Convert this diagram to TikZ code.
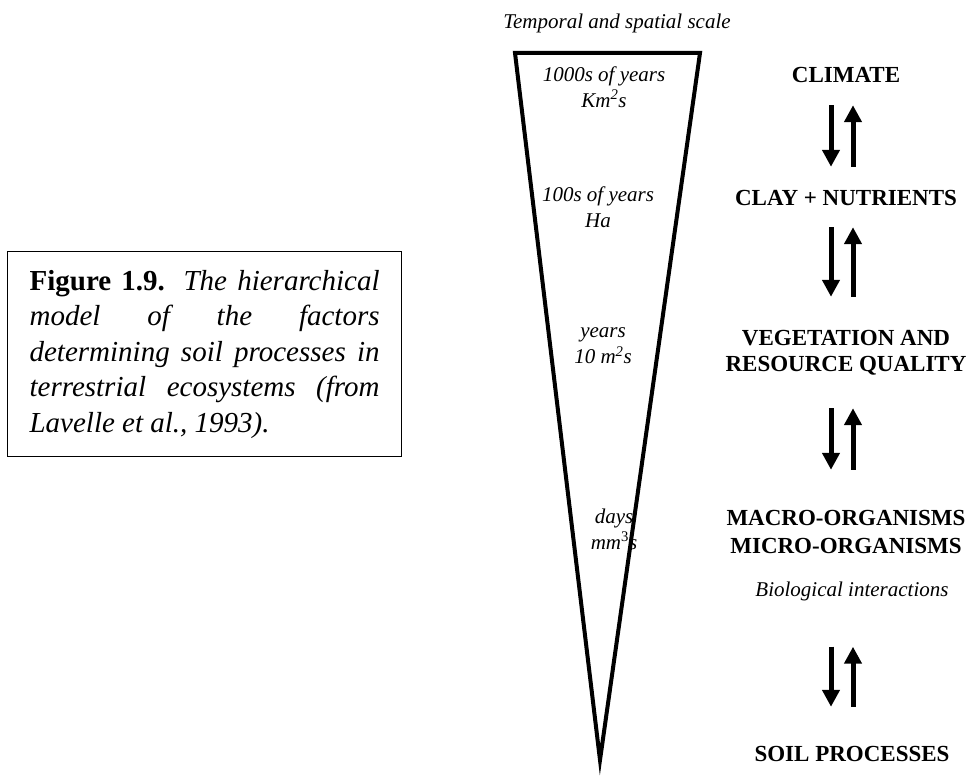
\documentclass[tikz,border=0pt]{standalone}
\usepackage{fontspec}
\setmainfont{Liberation Serif}
\usetikzlibrary{arrows.meta, positioning}

\begin{document}
\begin{tikzpicture}[
x=1pt, y=-1pt,
every node/.style={
    inner sep=0pt,
    },
factor/.style={
    font=\fontsize{23}{26}\selectfont\bfseries,
    text height=16pt,
    text depth=0pt,
    },
scalelab/.style={
    font=\fontsize{21}{26}\selectfont\itshape,
    align=center,
    },
every edge/.style={
    draw,
    line width=5pt,
    -{Triangle[length=17pt,width=17pt]},
    },
gap/.style 2 args={
    shorten <=#1,
    shorten >=#2,
    },
]
\useasboundingbox (0,0) rectangle (978,778);

% the scale wedge
\draw[line width=4pt, line join=miter] (515,53) -- (700,53) -- (600,760) -- cycle;
\node[scalelab] (scale) at (617,23) {Temporal and spatial scale};
\node[scalelab] (kyr) at (604,87) {1000s of years\\Km\textsuperscript{2}s};
\node[scalelab] (cyr) at (598,207) {100s of years\\Ha};
\node[scalelab] (yr) at (603,346) {years\\10 m\textsuperscript{2}s};
\node[scalelab] (day) at (614,529) {days\\mm\textsuperscript{\upshape 3}s};

% the levels
\node[factor] (climate) at (846,75) {CLIMATE};
\node[factor] (clay) at (846,198) {CLAY + NUTRIENTS};
\node[factor] (veg) at (846,337) {VEGETATION AND};
\node[factor] (res) at (846,363) {RESOURCE QUALITY};
\node[factor] (macro) at (846,517) {MACRO-ORGANISMS};
\node[factor] (micro) at (846,545) {MICRO-ORGANISMS};
\node[scalelab] (bio) at (852,591) {Biological interactions};
\node[factor] (soil) at (852,753) {SOIL PROCESSES};

\path ([xshift=-15pt]climate.south) edge[gap={22}{23}] ([xshift=-15pt]clay.north)
      ([xshift=7pt]clay.north) edge[gap={23}{22}] ([xshift=7pt]climate.south)
      ([xshift=-15pt]clay.south) edge[gap={21}{32}] ([xshift=-15pt]veg.north)
      ([xshift=7pt]veg.north) edge[gap={32}{21}] ([xshift=7pt]clay.south)
      ([xshift=-15pt]res.south) edge[gap={37}{39}] ([xshift=-15pt]macro.north)
      ([xshift=7pt]macro.north) edge[gap={39}{37}] ([xshift=7pt]res.south)
      ([xshift=-21pt]bio.south) edge[gap={46}{38}] ([xshift=-21pt]soil.north)
      ([xshift=1pt]soil.north) edge[gap={38}{46}] ([xshift=1pt]bio.south);

% caption box
\node[draw, line width=1.2pt, text width=350pt, inner xsep=22pt, inner ysep=18.5pt,
      anchor=north west, align=justify, font=\fontsize{29}{35.5}\selectfont] (caption) at (7,251)
     {\textbf{Figure 1.9.} \textit{The hierarchical\linebreak
      model of the factors\linebreak
      determining soil processes in\linebreak
      terrestrial ecosystems (from\linebreak
      Lavelle et al., 1993).}};
\end{tikzpicture}
\end{document}
